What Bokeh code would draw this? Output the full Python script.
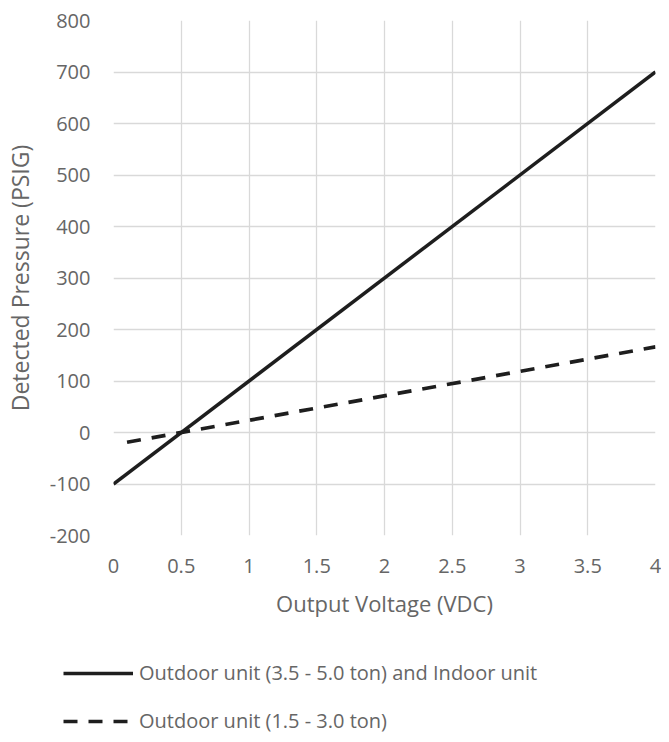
from bokeh.plotting import figure
from bokeh.models import Legend, LegendItem, Range1d, FixedTicker
from bokeh.layouts import column
from bokeh.embed import file_html
from bokeh.resources import INLINE

x_solid = [0, 4]
y_solid = [-100, 700]
x_dash = [0.1, 4]
y_dash = [-19, 166.25]
x_ticks = [0, 0.5, 1, 1.5, 2, 2.5, 3, 3.5, 4]
x_tick_labels = ["0", "0.5", "1", "1.5", "2", "2.5", "3", "3.5", "4"]
y_ticks = [-200, -100, 0, 100, 200, 300, 400, 500, 600, 700, 800]
y_tick_labels = ["-200", "-100", "0", "100", "200", "300", "400", "500", "600", "700", "800"]
label_solid = "Outdoor unit (3.5 - 5.0 ton) and Indoor unit"
label_dash = "Outdoor unit (1.5 - 3.0 ton)"

FONT = "Open Sans"
GRAY = "#666666"
LINE = "#1e1e1e"
SOLID_W = 3.5
DASH_W = 3.7
DASH = "14 11"

p = figure(width=661, height=636, output_backend="svg", toolbar_location=None,
           x_range=Range1d(0, 4), y_range=Range1d(-200, 800),
           min_border_left=103, min_border_right=6, min_border_top=20,
           min_border_bottom=101)
p.outline_line_color = None
p.background_fill_color = "white"

for ax in (p.xaxis, p.yaxis):
    ax.axis_line_color = None
    ax.major_tick_line_color = None
    ax.minor_tick_line_color = None
    ax.major_tick_out = 0
    ax.major_tick_in = 0
    ax.minor_tick_out = 0
    ax.minor_tick_in = 0
    ax.major_label_text_font = FONT
    ax.major_label_text_color = GRAY
    ax.major_label_text_font_size = "20px"
    ax.axis_label_text_font = FONT
    ax.axis_label_text_color = GRAY
    ax.axis_label_text_font_style = "normal"

p.xaxis.axis_label_text_font_size = "22px"
p.yaxis.axis_label_text_font_size = "23px"
p.xaxis.ticker = FixedTicker(ticks=x_ticks)
p.yaxis.ticker = FixedTicker(ticks=y_ticks)
p.xaxis.major_label_overrides = dict(zip(x_ticks, x_tick_labels))
p.yaxis.major_label_overrides = dict(zip(y_ticks, y_tick_labels))
p.xaxis.axis_label = "Output Voltage (VDC)"
p.yaxis.axis_label = "Detected Pressure (PSIG)"
p.xaxis.major_label_standoff = 23
p.yaxis.major_label_standoff = 23
p.xaxis.axis_label_standoff = 12
p.yaxis.axis_label_standoff = 11

for g in (p.xgrid, p.ygrid):
    g.grid_line_color = "#d9d9d9"
    g.grid_line_width = 1.3

p.line(x_solid, y_solid, line_color=LINE, line_width=SOLID_W)
p.line(x_dash, y_dash, line_color=LINE, line_width=DASH_W, line_dash=DASH)

# Legend panel below the chart (same series, drawn off-frame; only the legend shows)
p2 = figure(width=661, height=98, output_backend="svg", toolbar_location=None,
            x_range=Range1d(0, 4), y_range=Range1d(5000, 5001),
            min_border_left=0, min_border_right=0, min_border_top=0,
            min_border_bottom=0)
try:
    p2.frame_align = False
    p.frame_align = False
except Exception:
    pass
p2.axis.visible = False
p2.grid.visible = False
p2.outline_line_color = None
l1 = p2.line(x_solid, y_solid, line_color=LINE, line_width=SOLID_W)
l2 = p2.line(x_dash, y_dash, line_color=LINE, line_width=DASH_W, line_dash=DASH)

legend = Legend(items=[LegendItem(label=label_solid, renderers=[l1]),
                       LegendItem(label=label_dash, renderers=[l2])],
                location=(63, 0), orientation="vertical",
                glyph_width=70, glyph_height=20, label_height=20,
                label_standoff=6, spacing=21, padding=0, margin=0,
                border_line_color=None, background_fill_alpha=0,
                label_text_font=FONT, label_text_color=GRAY,
                label_text_font_size="20px")
p2.add_layout(legend, "center")

layout = column(p, p2, spacing=0)
open("out.html", "w").write(file_html(layout, INLINE))
